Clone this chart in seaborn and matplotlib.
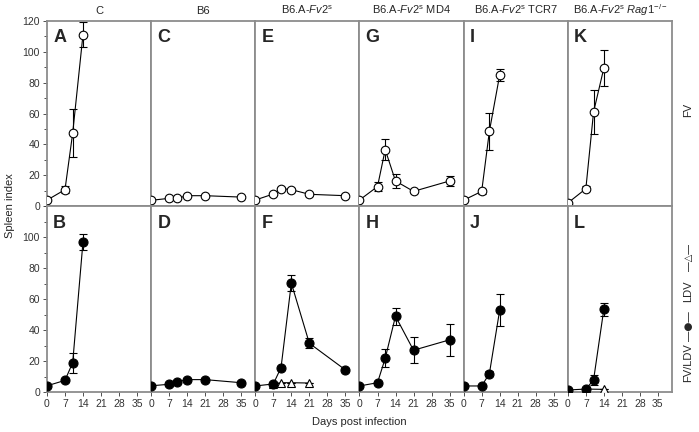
import numpy as np
import pandas as pd
import matplotlib
matplotlib.use("Agg")
import matplotlib.pyplot as plt
import seaborn as sns
from matplotlib.ticker import MultipleLocator

sns.set_style("ticks")
plt.rcParams['font.family'] = ['Liberation Sans', 'DejaVu Sans']
plt.rcParams['mathtext.fontset'] = 'custom'
plt.rcParams['mathtext.rm'] = 'Liberation Sans'
plt.rcParams['mathtext.it'] = 'Liberation Sans:italic'

# column headers and panel letters
strains = ["C", "B6", "B6.A-Fv2s", "B6.A-Fv2s MD4", "B6.A-Fv2s TCR7", "B6.A-Fv2s Rag1"]
headers = ["C", "B6", r"B6.A-$\mathit{Fv2}^{\mathrm{s}}$",
           r"B6.A-$\mathit{Fv2}^{\mathrm{s}}$ MD4",
           r"B6.A-$\mathit{Fv2}^{\mathrm{s}}$ TCR7",
           r"B6.A-$\mathit{Fv2}^{\mathrm{s}}$ $\mathit{Rag1}^{-/-}$"]
letters_fv = ["A", "C", "E", "G", "I", "K"]
letters_mix = ["B", "D", "F", "H", "J", "L"]

# FV infection (open circles)
fv_days = {
    "C": [0, 7, 10, 14],
    "B6": [0, 7, 10, 14, 21, 35],
    "B6.A-Fv2s": [0, 7, 10, 14, 21, 35],
    "B6.A-Fv2s MD4": [0, 7, 10, 14, 21, 35],
    "B6.A-Fv2s TCR7": [0, 7, 10, 14],
    "B6.A-Fv2s Rag1": [0, 7, 10, 14],
}
fv_mean = {
    "C": [4, 10.8, 47.4, 111],
    "B6": [3.9, 5.2, 5.2, 6.9, 6.9, 6.0],
    "B6.A-Fv2s": [4.1, 8, 11.5, 10.8, 7.8, 6.9],
    "B6.A-Fv2s MD4": [4.1, 12.8, 36.7, 16.4, 9.7, 16.4],
    "B6.A-Fv2s TCR7": [4, 9.7, 48.6, 84.9],
    "B6.A-Fv2s Rag1": [2.2, 11.4, 61, 89.4],
}
fv_err = {
    "C": [0, 2.2, 15.5, 8],
    "B6": [0, 0.5, 0.5, 0.6, 0.5, 0.6],
    "B6.A-Fv2s": [0, 0.8, 1.0, 1.2, 0.8, 0.8],
    "B6.A-Fv2s MD4": [0, 3, 7, 4.5, 1.2, 3.3],
    "B6.A-Fv2s TCR7": [0, 1.8, 12, 4],
    "B6.A-Fv2s Rag1": [0, 1.5, 14.5, 11.5],
}

# FV/LDV co-infection (filled circles)
mix_days = fv_days
mix_mean = {
    "C": [4, 7.5, 19, 97],
    "B6": [4, 5, 6.5, 8, 8, 6],
    "B6.A-Fv2s": [3.9, 5.2, 15.8, 70.4, 31.5, 14.3],
    "B6.A-Fv2s MD4": [3.9, 6, 21.8, 49, 27, 33.7],
    "B6.A-Fv2s TCR7": [3.9, 3.9, 11.9, 52.9],
    "B6.A-Fv2s Rag1": [1.3, 1.9, 7.8, 53.6],
}
mix_err = {
    "C": [0, 1, 6.5, 5.2],
    "B6": [0, 0.4, 0.5, 0.5, 0.5, 0.5],
    "B6.A-Fv2s": [0, 0.5, 1.3, 5, 3.3, 1.2],
    "B6.A-Fv2s MD4": [0, 1, 5.7, 5.6, 8.3, 10.3],
    "B6.A-Fv2s TCR7": [0, 0.3, 1.5, 10.3],
    "B6.A-Fv2s Rag1": [0, 0.3, 3.4, 4.2],
}

# LDV only (open triangles)
ldv_days = {"B6.A-Fv2s": [7, 10, 14, 21], "B6.A-Fv2s Rag1": [7, 14]}
ldv_mean = {"B6.A-Fv2s": [5.2, 6, 6, 5.8], "B6.A-Fv2s Rag1": [1.9, 1.7]}

rows = []
for s in strains:
    for d, v, e in zip(fv_days[s], fv_mean[s], fv_err[s]):
        rows.append((s, "FV", d, v, e))
    for d, v, e in zip(mix_days[s], mix_mean[s], mix_err[s]):
        rows.append((s, "FV/LDV", d, v, e))
    for d, v in zip(ldv_days.get(s, []), ldv_mean.get(s, [])):
        rows.append((s, "LDV", d, v, 0))
df = pd.DataFrame(rows, columns=["strain", "infection", "day", "index", "err"])

styles = {
    "FV": dict(marker="o", mfc="white", ms=6.2),
    "FV/LDV": dict(marker="o", mfc="black", ms=6.5),
    "LDV": dict(marker="^", mfc="white", ms=5.5),
}

fig, axes = plt.subplots(2, 6, figsize=(6.99, 4.32), dpi=100, sharex=True)
fig.subplots_adjust(left=0.0672, right=0.9614, top=0.952, bottom=0.0926,
                    wspace=0, hspace=0)

spine_col = "#8c8c8c"
for r, row_inf in enumerate([["FV"], ["LDV", "FV/LDV"]]):
    for c, s in enumerate(strains):
        ax = axes[r, c]
        for inf in row_inf:
            sub = df[(df.strain == s) & (df.infection == inf)]
            if sub.empty:
                continue
            st = styles[inf]
            ax.errorbar(sub["day"], sub["index"], yerr=sub["err"], fmt="none",
                        ecolor="black", elinewidth=0.8, capsize=3, capthick=0.8,
                        zorder=2)
            sns.lineplot(data=sub, x="day", y="index", ax=ax, color="black",
                         linewidth=0.8, estimator=None, marker=st["marker"],
                         markerfacecolor=st["mfc"], markeredgecolor="black",
                         markeredgewidth=0.8, markersize=st["ms"], zorder=3)
        ax.set_xlim(0, 40.5)
        ax.set_ylim(0, 120)
        ax.set_xlabel("")
        ax.set_ylabel("")
        for sp in ax.spines.values():
            sp.set_visible(True)
            sp.set_color(spine_col)
            sp.set_linewidth(1.3)
        ax.xaxis.set_major_locator(MultipleLocator(7))
        ax.tick_params(axis="both", which="both", direction="out",
                       labelsize=7.5, colors="#333333", length=3, width=0.6,
                       pad=2)
        if r == 0:
            ax.tick_params(axis="x", bottom=False, labelbottom=False)
            ax.set_title(headers[c], fontsize=8, pad=5)
        else:
            ax.set_xticks([0, 7, 14, 21, 28, 35])
        if c == 0:
            ax.set_yticks(np.arange(0, 121, 20) if r == 0 else np.arange(0, 101, 20))
            ax.yaxis.set_minor_locator(MultipleLocator(10))
            ax.tick_params(axis="y", which="minor", length=2)
        else:
            ax.tick_params(axis="y", which="both", left=False, labelleft=False)
        letter = letters_fv[c] if r == 0 else letters_mix[c]
        ax.text(0.06, 0.955, letter, transform=ax.transAxes, fontsize=13,
                fontweight="bold", va="top", ha="left")

fig.text(0.015, 0.525, "Spleen index", rotation=90, va="center", ha="center",
         fontsize=8)
fig.text(0.514, 0.022, "Days post infection", va="center", ha="center",
         fontsize=8)
fig.text(0.985, 0.745, "FV", rotation=90, va="center", ha="center", fontsize=8)
fig.text(0.985, 0.161, "FV/LDV", rotation=90, va="center", ha="center",
         fontsize=8)
fig.text(0.985, 0.245, "\u2015\u25cf\u2015", rotation=90, va="center",
         ha="center", fontsize=7.5, family=["DejaVu Sans"])
fig.text(0.985, 0.325, "LDV", rotation=90, va="center", ha="center",
         fontsize=8)
fig.text(0.985, 0.405, "\u2015\u25b3\u2015", rotation=90, va="center",
         ha="center", fontsize=7, family=["DejaVu Sans"])

fig.savefig("out.png", dpi=100)
